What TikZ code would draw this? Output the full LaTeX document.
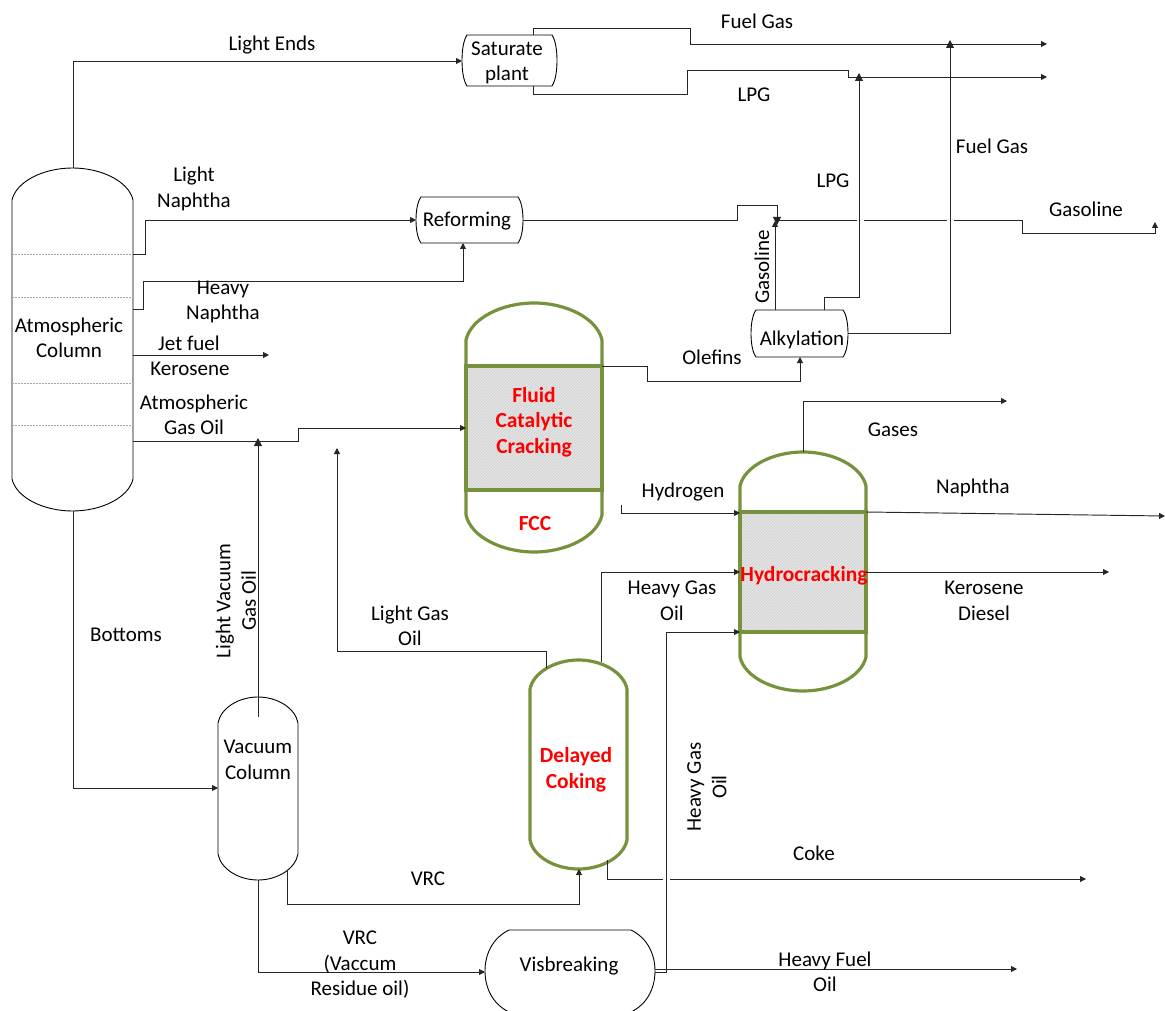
\documentclass[tikz,border=0pt]{standalone}
\usepackage{fontspec}
\setmainfont{Carlito}
\usepackage{xcolor}
\usetikzlibrary{positioning, arrows.meta, patterns}
\definecolor{vesselgreen}{HTML}{76923C}
\definecolor{packfill}{HTML}{D6D6D6}

\tikzset{
    line/.style={draw=black!85, line width=0.95pt},
    flow/.style={line, -{Triangle[length=6pt,width=6pt]}},
    joint/.style={line, -{Triangle[length=8pt,width=8pt]}},
    tag/.style={align=center, font=\fontsize{21}{25.5}\selectfont, inner sep=0pt},
    redtag/.style={tag, text=red, font=\fontsize{21.5}{25.5}\selectfont\bfseries},
    shell/.style={draw=black, line width=0.9pt},
    greenshell/.style={draw=vesselgreen, line width=3.2pt},
    tray/.style={draw=black!35, line width=0.6pt, dash pattern=on 2pt off 1pt},
    pack/.style={draw=vesselgreen, line width=3.2pt},
    stripes/.style={pattern=north east lines, pattern color=black!7},
}

% upright vessel: name, style, left, top, right, bottom, cap
\newcommand{\upvessel}[7]{
    \coordinate (#1 nw) at (#3,#4);
    \coordinate (#1 se) at (#5,#6);
    \draw[#2] (#3,#4+#7) .. controls ({#3+0.035*(#5-#3)},#4+0.42*#7) and ({#3+0.26*(#5-#3)},#4) .. ({0.5*(#3+#5)},#4)
        .. controls ({#5-0.26*(#5-#3)},#4) and ({#5-0.035*(#5-#3)},#4+0.42*#7) .. (#5,#4+#7)
        -- (#5,#6-#7) .. controls ({#5-0.035*(#5-#3)},#6-0.42*#7) and ({#5-0.26*(#5-#3)},#6) .. ({0.5*(#3+#5)},#6)
        .. controls ({#3+0.26*(#5-#3)},#6) and ({#3+0.035*(#5-#3)},#6-0.42*#7) .. (#3,#6-#7) -- cycle;
}
% lying vessel: name, left, top, right, bottom, cap
\newcommand{\flatvessel}[6]{
    \coordinate (#1 nw) at (#2,#3);
    \coordinate (#1 se) at (#4,#5);
    \draw[shell] (#2+#6,#3) -- (#4-#6,#3)
        .. controls (#4-0.3*#6,{#3+0.1*(#5-#3)}) and (#4,{#3+0.3*(#5-#3)}) .. (#4,{0.5*(#3+#5)})
        .. controls (#4,{#5-0.3*(#5-#3)}) and (#4-0.3*#6,{#5-0.1*(#5-#3)}) .. (#4-#6,#5)
        -- (#2+#6,#5)
        .. controls (#2+0.3*#6,{#5-0.1*(#5-#3)}) and (#2,{#5-0.3*(#5-#3)}) .. (#2,{0.5*(#3+#5)})
        .. controls (#2,{#3+0.3*(#5-#3)}) and (#2+0.3*#6,{#3+0.1*(#5-#3)}) .. (#2+#6,#3) -- cycle;
}

\begin{document}
\begin{tikzpicture}[x=1pt,y=-1pt]
    \useasboundingbox (0,0) rectangle (1165,1011);

    % packed beds first, the shells go over them
    \fill[packfill] (466,366) rectangle (602,490);
    \fill[stripes] (466,366) rectangle (602,490);
    \draw[pack] (466,366) rectangle (602,490);
    \fill[packfill] (740,512) rectangle (866,632);
    \fill[stripes] (740,512) rectangle (866,632);
    \draw[pack] (740,512) rectangle (866,632);

    \upvessel{atm}{shell}{12}{168}{133}{511}{32}
    \upvessel{vac}{shell}{218}{697}{298}{880}{26}
    \upvessel{fcc}{greenshell}{466}{303}{602}{552}{37}
    \upvessel{coker}{greenshell}{530}{660}{627}{869}{29}
    \upvessel{hcu}{greenshell}{740}{452}{866}{691}{34}
    \flatvessel{sat}{462}{35}{557}{86}{5}
    \flatvessel{ref}{416}{197}{523}{243}{5}
    \flatvessel{alky}{751}{310}{848}{357}{5}
    \clip (0,0) rectangle (1165,1011);
    \flatvessel{visb}{485}{930}{655}{1012}{24}

    \foreach \y in {254,297,383,425}
        \draw[tray] (12,\y) -- (133,\y);

    % unit names
    \node[tag] (atmname) at (69,338) {Atmospheric\\Column};
    \node[tag] (vacname) at (258,760) {Vacuum\\Column};
    \node[tag] (satname) at (507,63) {Saturate\\plant};
    \node[tag] (refname) at (467,221) {Reforming};
    \node[tag] (alkyname) at (802,340) {Alkylation};
    \node[tag] (visbname) at (569,966) {Visbreaking};
    \node[redtag] (fccname) at (534,422) {Fluid\\Catalytic\\Cracking};
    \node[redtag] (fccshort) at (535,524) {FCC};
    \node[redtag] (cokername) at (576,770) {Delayed\\Coking};
    \node[redtag] (hcuname) at (804,576) {Hydrocracking};

    % free ends of the streams
    \coordinate (fuelout) at (1047,44);
    \coordinate (lpgout) at (1047,77);
    \coordinate (jetout) at (269,355);
    \coordinate (gasesout) at (1007,401);
    \coordinate (naphthaout) at (1165,516);
    \coordinate (keroout) at (1109,572);
    \coordinate (cokeout) at (1086,879);
    \coordinate (hfoout) at (1017,969);
    \coordinate (h2in) at (621,505);
    \coordinate (lgotip) at (337,448);
    \coordinate (gasotip) at (1155,222);

    % streams
    \draw[flow] (73,168) -- (73,61) -- (462,61);
    \draw[flow] (533,35) -- (533,28) -- (690,28) -- (690,44) -- (fuelout);
    \draw[flow] (533,86) -- (533,94) -- (687,94) -- (687,70) -- (848,70) -- (848,77) -- (lpgout);

    \draw[flow] (133,254) -- (145,254) -- (145,220) -- (416,220);
    \draw[flow] (133,309) -- (143,309) -- (143,281) -- (463,281) -- (463,243);
    \draw[flow] (133,355) -- (jetout);
    \draw[flow] (133,441) -- (298,441) -- (298,428) -- (466,428);
    \draw[joint] (258,717) -- (258,438);
    \draw[flow] (73,511) -- (73,788) -- (218,788);

    \draw[joint] (523,220) -- (737,220) -- (737,205) -- (777,205) -- (777,225);
    \draw[flow] (775,310) -- (775,221);
    \draw[line] (779,220) -- (857,220);
    \draw[line] (864,220) -- (947,220);
    \draw[flow] (954,220) -- (1022,220) -- (1022,233) -- (1155,233) -- (gasotip);
    \draw[joint] (824,310) -- (824,297) -- (859,297) -- (859,73);
    \draw[joint] (848,333) -- (950,333) -- (950,40);
    \draw[flow] (602,366) -- (647,366) -- (647,381) -- (800,381) -- (800,357);

    \draw[flow] (803,452) -- (803,401) -- (gasesout);
    \draw[flow] (h2in) -- (621,513) -- (740,513);
    \draw[flow] (866,512) -- (naphthaout);
    \draw[flow] (866,572) -- (keroout);
    \draw[flow] (601,662) -- (601,572) -- (740,572);
    \draw[flow] (655,972) -- (666,972) -- (666,632) -- (740,632);
    \draw[flow] (546,668) -- (546,651) -- (337,651) -- (lgotip);
    \draw[flow] (655,969) -- (hfoout);
    \draw[line] (607,860) -- (607,879) -- (663,879);
    \draw[flow] (670,879) -- (cokeout);
    \draw[flow] (287,870) -- (287,904) -- (579,904) -- (579,869);
    \draw[flow] (258,880) -- (258,972) -- (485,972);

    % stream names
    \node[tag] (lightends) at (272,45) {Light Ends};
    \node[tag] (fuelgastop) at (757,21) {Fuel Gas};
    \node[tag] (lpgtop) at (754,95) {LPG};
    \node[tag] (fuelgasside) at (992,146) {Fuel Gas};
    \node[tag] (lpgside) at (833,181) {LPG};
    \node[tag] (gasoline) at (1086,209) {Gasoline};
    \node[tag, rotate=90] (gasolinealky) at (762,267) {Gasoline};
    \node[tag] (lightnaphtha) at (194,189) {Light\\Naphtha};
    \node[tag] (heavynaphtha) at (223,302) {Heavy\\Naphtha};
    \node[tag] (jetfuel) at (189,343) {Jet fuel};
    \node[tag] (kerosene) at (190,369) {Kerosene};
    \node[tag] (ago) at (194,415) {Atmospheric\\Gas Oil};
    \node[tag] (olefins) at (712,357) {Olefins};
    \node[tag] (gases) at (893,430) {Gases};
    \node[tag] (naphtha) at (973,488) {Naphtha};
    \node[tag] (hydrogen) at (683,492) {Hydrogen};
    \node[tag] (kerodiesel) at (984,601) {Kerosene\\Diesel};
    \node[tag] (hgotop) at (672,601) {Heavy Gas\\Oil};
    \node[tag] (lgo) at (410,626) {Light Gas\\Oil};
    \node[tag] (bottoms) at (126,635) {Bottoms};
    \node[tag, rotate=90] (lvgo) at (236,601) {Light Vacuum\\Gas Oil};
    \node[tag, rotate=90] (hgoside) at (707,787) {Heavy Gas\\Oil};
    \node[tag] (coke) at (814,853) {Coke};
    \node[tag] (vrc) at (428,879) {VRC};
    \node[tag] (vrcresid) at (360,965) {VRC\\(Vaccum\\Residue oil)};
    \node[tag] (hfo) at (825,972) {Heavy Fuel\\Oil};
\end{tikzpicture}
\end{document}
